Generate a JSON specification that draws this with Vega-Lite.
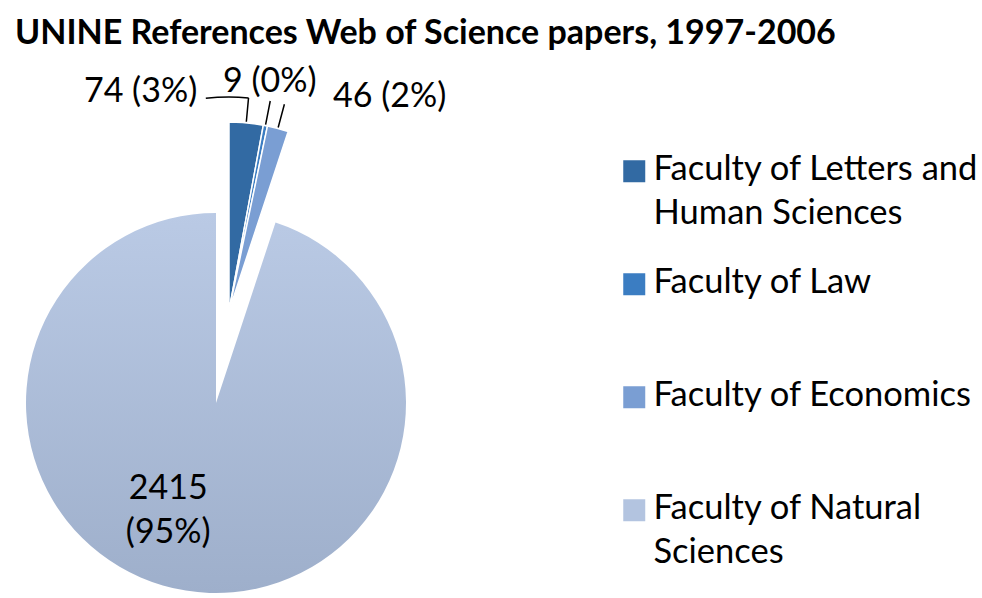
{
  "$schema": "https://vega.github.io/schema/vega-lite/v6.json",
  "width": 982,
  "height": 538,
  "autosize": {"type": "none"},
  "padding": {"left": 0, "top": 60, "right": 0, "bottom": 0},
  "background": "white",
  "title": {
    "text": "UNINE References Web of Science papers, 1997-2006",
    "anchor": "start",
    "frame": "group",
    "font": "Lato",
    "fontSize": 34,
    "fontWeight": "bold",
    "color": "black",
    "baseline": "alphabetic",
    "offset": -18,
    "dx": 15
  },
  "config": {
    "view": {"stroke": null},
    "style": {"guide-label": {"lineHeight": 44, "dy": -18}}
  },
  "data": {
    "values": [
      {"faculty": "Faculty of Letters and Human Sciences", "papers": 74},
      {"faculty": "Faculty of Law", "papers": 9},
      {"faculty": "Faculty of Economics", "papers": 46},
      {"faculty": "Faculty of Natural Sciences", "papers": 2415}
    ]
  },
  "transform": [
    {"window": [{"op": "row_number", "as": "idx"}]},
    {"joinaggregate": [{"op": "sum", "field": "papers", "as": "total"}]},
    {"calculate": "datum.papers + ' (' + format(datum.papers / datum.total, '.0%') + ')'", "as": "label"}
  ],
  "encoding": {
    "theta": {"field": "papers", "type": "quantitative", "stack": true},
    "order": {"field": "idx", "type": "quantitative"}
  },
  "layer": [
    {
      "mark": {
        "type": "arc", "x": 216, "y": 343, "radius": 190,
        "fill": {"gradient": "linear", "x1": 0, "y1": 0, "x2": 0, "y2": 1,
          "stops": [{"offset": 0, "color": "#bacae5"}, {"offset": 1, "color": "#9eafcb"}]}
      },
      "encoding": {
        "detail": {"field": "faculty", "type": "nominal"},
        "opacity": {"condition": {"test": "datum.faculty === 'Faculty of Natural Sciences'", "value": 1}, "value": 0}
      }
    },
    {
      "mark": {"type": "arc", "x": 229, "y": 251, "radius": 189, "stroke": "white", "strokeWidth": 1.5},
      "encoding": {
        "color": {
          "field": "faculty", "type": "nominal",
          "sort": ["Faculty of Letters and Human Sciences", "Faculty of Law", "Faculty of Economics", "Faculty of Natural Sciences"],
          "scale": {
            "domain": ["Faculty of Letters and Human Sciences", "Faculty of Law", "Faculty of Economics", "Faculty of Natural Sciences"],
            "range": ["#326aa3", "#3b7dc2", "#7a9ed3", "#b3c4e0"]
          },
          "legend": {
            "title": null,
            "orient": "none",
            "legendX": 617,
            "legendY": 94,
            "padding": 0,
            "symbolType": "square",
            "symbolSize": 484,
            "symbolStrokeWidth": 0,
            "symbolOpacity": 1,
            "labelFont": "Lato",
            "labelFontSize": 34.5,
            "labelColor": "black",
            "labelLimit": 0,
            "labelOffset": 2,
            "labelBaseline": "top",
            "rowPadding": 34,
            "gridAlign": "all",
            "labelExpr": "datum.label == 'Faculty of Letters and Human Sciences' ? ['Faculty of Letters and', 'Human Sciences'] : datum.label == 'Faculty of Natural Sciences' ? ['Faculty of Natural', 'Sciences'] : datum.label"
          }
        },
        "opacity": {"condition": {"test": "datum.faculty !== 'Faculty of Natural Sciences'", "value": 1}, "value": 0}
      }
    },
    {
      "transform": [
        {"stack": "papers", "groupby": [], "sort": [{"field": "idx"}], "as": ["s", "e"]},
        {"calculate": "(datum.s + datum.e) / 2", "as": "mid"},
        {"filter": "datum.faculty !== 'Faculty of Natural Sciences'"}
      ],
      "mark": {"type": "arc", "x": 229, "y": 251, "radius": 214, "radius2": 190, "fill": null, "stroke": "black", "strokeWidth": 1.5},
      "encoding": {
        "theta": {"field": "mid", "type": "quantitative", "stack": null},
        "theta2": {"field": "mid"}
      }
    },
    {
      "transform": [
        {"stack": "papers", "groupby": [], "sort": [{"field": "idx"}], "as": ["s", "e"]},
        {"calculate": "(datum.s + datum.e) / 2", "as": "mid"},
        {"filter": "datum.faculty === 'Faculty of Letters and Human Sciences'"}
      ],
      "mark": {"type": "arc", "x": 229, "y": 251, "radius": 214, "radius2": 214, "theta2Offset": -0.2, "fill": null, "stroke": "black", "strokeWidth": 1.5},
      "encoding": {
        "theta": {"field": "mid", "type": "quantitative", "stack": null},
        "theta2": {"field": "mid"}
      }
    },
    {
      "mark": {"type": "text", "x": 229, "y": 251, "radius": 200, "align": "right", "baseline": "middle", "dx": -50, "dy": -20, "font": "Lato", "fontSize": 34, "color": "black"},
      "encoding": {
        "detail": {"field": "faculty", "type": "nominal"},
        "text": {"condition": {"test": "datum.faculty === 'Faculty of Letters and Human Sciences'", "field": "label", "type": "nominal"}, "value": ""}
      }
    },
    {
      "mark": {"type": "text", "x": 229, "y": 251, "radius": 233, "align": "center", "baseline": "middle", "dx": -4, "font": "Lato", "fontSize": 34, "color": "black"},
      "encoding": {
        "detail": {"field": "faculty", "type": "nominal"},
        "text": {"condition": {"test": "datum.faculty === 'Faculty of Law'", "field": "label", "type": "nominal"}, "value": ""}
      }
    },
    {
      "mark": {"type": "text", "x": 229, "y": 251, "radius": 205, "align": "left", "baseline": "middle", "dx": 51, "dy": -16, "font": "Lato", "fontSize": 34, "color": "black"},
      "encoding": {
        "detail": {"field": "faculty", "type": "nominal"},
        "text": {"condition": {"test": "datum.faculty === 'Faculty of Economics'", "field": "label", "type": "nominal"}, "value": ""}
      }
    },
    {
      "mark": {"type": "text", "x": 216, "y": 343, "radius": 112, "align": "center", "baseline": "middle", "dx": -30, "dy": -25, "lineBreak": " ", "lineHeight": 44, "font": "Lato", "fontSize": 34, "color": "black"},
      "encoding": {
        "detail": {"field": "faculty", "type": "nominal"},
        "text": {"condition": {"test": "datum.faculty === 'Faculty of Natural Sciences'", "field": "label", "type": "nominal"}, "value": ""}
      }
    }
  ]
}
